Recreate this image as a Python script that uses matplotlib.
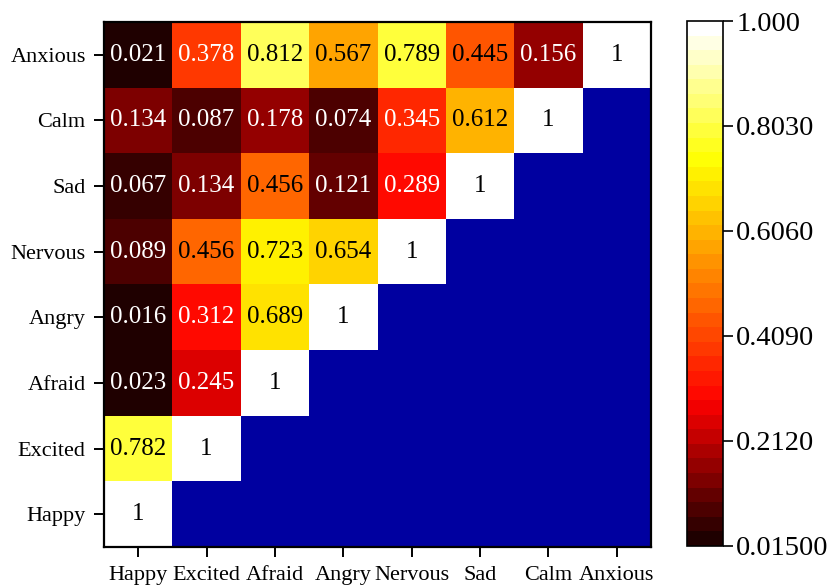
import numpy as np
import matplotlib
matplotlib.use("Agg")
import matplotlib.pyplot as plt
from matplotlib.colors import LinearSegmentedColormap, ListedColormap, Normalize

plt.rcParams['font.family'] = ['Liberation Serif', 'DejaVu Serif']

labels = ["Happy", "Excited", "Afraid", "Angry", "Nervous", "Sad", "Calm", "Anxious"]

# lower-triangular correlation values, one row per emotion (row i has i+1 entries)
row_happy = [1]
row_excited = [0.782, 1]
row_afraid = [0.023, 0.245, 1]
row_angry = [0.016, 0.312, 0.689, 1]
row_nervous = [0.089, 0.456, 0.723, 0.654, 1]
row_sad = [0.067, 0.134, 0.456, 0.121, 0.289, 1]
row_calm = [0.134, 0.087, 0.178, 0.074, 0.345, 0.612, 1]
row_anxious = [0.021, 0.378, 0.812, 0.567, 0.789, 0.445, 0.156, 1]
rows = [row_happy, row_excited, row_afraid, row_angry,
        row_nervous, row_sad, row_calm, row_anxious]

vmin, vmax = 0.015, 1.0
cbar_ticks = [0.015, 0.212, 0.409, 0.606, 0.803, 1.0]
cbar_ticklabels = ["0.01500", "0.2120", "0.4090", "0.6060", "0.8030", "1.000"]

n = len(labels)
M = np.full((n, n), np.nan)
for i, r in enumerate(rows):
    M[i, :len(r)] = r
data = np.ma.masked_invalid(M)

# hot-style palette, quantised into discrete levels
base = LinearSegmentedColormap.from_list(
    "hotlevels",
    [(0.0, (0.12, 0.0, 0.0)), (0.27, (1.0, 0.0, 0.0)),
     (0.74, (1.0, 1.0, 0.0)), (1.0, (1.0, 1.0, 1.0))])
nlev = 36
cmap = ListedColormap(base(np.linspace(0, 1, nlev)))
cmap.set_bad('#0000A0')
norm = Normalize(vmin=vmin, vmax=vmax)

fig = plt.figure(figsize=(8.34, 5.85), dpi=100)
ax = fig.add_axes([0.1247, 0.065, 0.6559, 0.8974])
x = np.arange(n + 1) - 0.5
ax.pcolormesh(x, x, data, cmap=cmap, norm=norm)
ax.set_xlim(-0.5, n - 0.5)
ax.set_ylim(-0.5, n - 0.5)

for i, r in enumerate(rows):
    for j, v in enumerate(r):
        txt = "1" if v == 1 else f"{v:.3f}"
        col = 'white' if v < 0.4 else 'black'
        ax.text(j, i, txt, ha='center', va='center', fontsize=18, color=col)

ax.set_xticks(range(n))
ax.set_xticklabels(labels)
ax.set_yticks(range(n))
ax.set_yticklabels(labels)
ax.tick_params(axis='both', direction='out', length=7.2, width=1.4,
               labelsize=16, color='black')
ax.tick_params(axis='x', pad=6.5)
ax.tick_params(axis='y', pad=6)
for s in ax.spines.values():
    s.set_linewidth(1.6)

cax = fig.add_axes([0.8237, 0.0667, 0.0432, 0.8974])
cb = fig.colorbar(plt.cm.ScalarMappable(norm=norm, cmap=cmap), cax=cax)
cb.set_ticks(cbar_ticks)
cb.set_ticklabels(cbar_ticklabels)
cb.ax.tick_params(direction='out', length=7.5, width=1.2, labelsize=20.5, pad=2)
cb.outline.set_linewidth(1.2)

fig.savefig("out.png", dpi=100)
